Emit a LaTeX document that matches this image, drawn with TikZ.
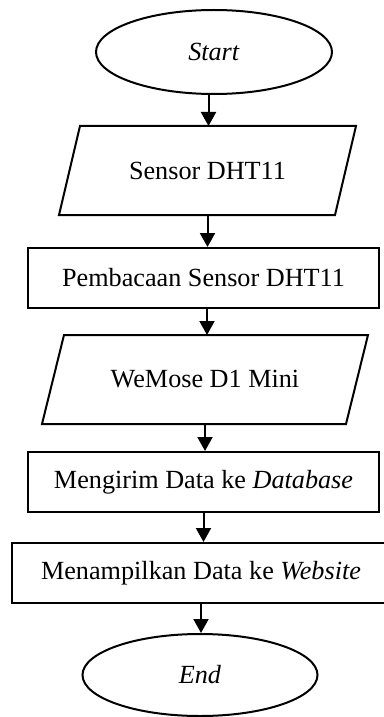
\documentclass[tikz,border=0pt]{standalone}
\usepackage{fontspec}
\setmainfont{Liberation Serif}
\usetikzlibrary{shapes.geometric,arrows.meta}
\begin{document}
\begin{tikzpicture}[x=0.5pt,y=-0.5pt, line width=1pt,
  every node/.style={font=\fontsize{13.1}{15}\selectfont, inner sep=0pt},
  term/.style={ellipse, draw, minimum width=118pt, minimum height=42pt},
  procbox/.style={rectangle, draw, minimum height=30pt},
  iobox/.style={rectangle, minimum height=43.5pt},
  arr/.style={-{Triangle[length=7pt,width=7.5pt]}}]
\useasboundingbox (0,0) rectangle (384,717);
\node[term] (start) at (214,52) {\textit{Start}};
\node[iobox, minimum width=147.5pt] (s1) at (207.5,170.5) {Sensor DHT11};
\draw ([xshift=10.5pt]s1.north west) -- (s1.north east) -- ([xshift=-10.5pt]s1.south east) -- (s1.south west) -- cycle;
\node[procbox, minimum width=175.5pt] (r1) at (203.5,278) {Pembacaan Sensor DHT11};
\node[iobox, minimum width=162pt] (s2) at (205,379.5) {WeMose D1 Mini};
\draw ([xshift=11pt]s2.north west) -- (s2.north east) -- ([xshift=-11pt]s2.south east) -- (s2.south west) -- cycle;
\node[procbox, minimum width=175.5pt] (r2) at (203.5,482) {Mengirim Data ke \textit{Database}};
\node[procbox, minimum width=189pt] (r3) at (201,573) {Menampilkan Data ke \textit{Website}};
\node[term, minimum width=117.5pt, minimum height=41pt] (end) at (200,675) {\textit{End}};
\draw[arr] ([xshift=-2.75pt]start.south) -- ([xshift=-2.75pt]start.south |- s1.north);
\draw[arr] (s1.south) -- (s1.south |- r1.north);
\draw[arr] ([xshift=1.75pt]r1.south) -- ([xshift=1.75pt]r1.south |- s2.north);
\draw[arr] (s2.south) -- (s2.south |- r2.north);
\draw[arr] (r2.south) -- (r2.south |- r3.north);
\draw[arr] (r3.south) -- (r3.south |- end.north);
\end{tikzpicture}
\end{document}
